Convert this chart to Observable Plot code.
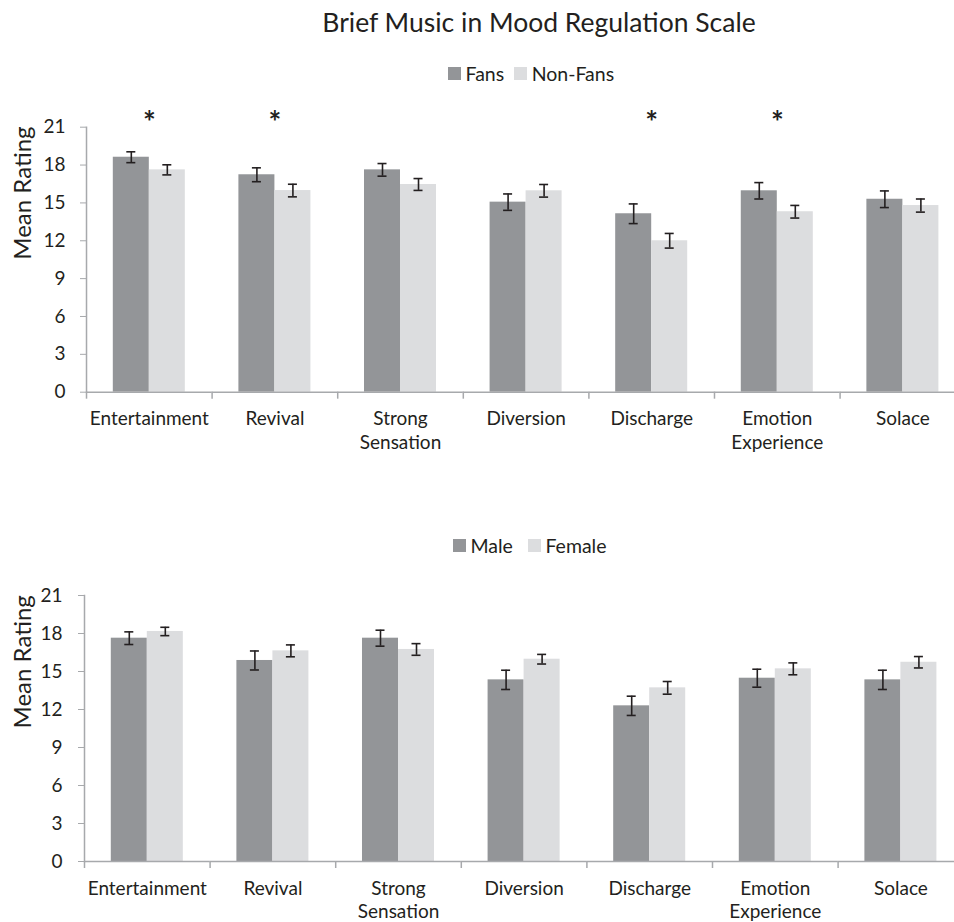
<!DOCTYPE html>
<html><head><meta charset="utf-8">
<script src="https://cdn.jsdelivr.net/npm/d3@7"></script>
<script src="https://cdn.jsdelivr.net/npm/@observablehq/plot@0.6"></script>
<style>
body{margin:0;background:#fff;}
#wrap{position:relative;width:954px;height:922px;overflow:hidden;font-family:Lato,"Open Sans",sans-serif;color:#231f20;}
.abs{position:absolute;}
#title{left:539px;top:8.5px;transform:translateX(-50%);font-size:26.5px;line-height:1;white-space:nowrap;}
.leg-swatches{min-height:33px !important;}
.leg-swatch > svg{margin-right:4.5px !important;}
#leg1 .leg-swatch{margin-right:10px !important;}
#leg2 .leg-swatch{margin-right:15px !important;}
</style></head><body><div id="wrap"><div id="title" class="abs">Brief Music in Mood Regulation Scale</div></div>
<script>
// ---- data ----
const categories = ["Entertainment","Revival","Strong Sensation","Diversion","Discharge","Emotion Experience","Solace"];
const categoryLabels = ["Entertainment","Revival","Strong\nSensation","Diversion","Discharge","Emotion\nExperience","Solace"];
const yTicks = [0,3,6,9,12,15,18,21];

const fanGroups = ["Fans","Non-Fans"];
const fansMean    = [18.62,17.23,17.62,15.06,14.14,15.96,15.29];
const fansErr     = [0.43,0.55,0.50,0.65,0.78,0.65,0.66];
const nonFansMean = [17.62,15.98,16.46,15.96,12.00,14.30,14.79];
const nonFansErr  = [0.40,0.50,0.47,0.50,0.58,0.50,0.52];
const significant = ["Entertainment","Revival","Discharge","Emotion Experience"];

const genderGroups = ["Male","Female"];
const maleMean   = [17.63,15.87,17.63,14.34,12.29,14.47,14.34];
const maleErr    = [0.50,0.75,0.63,0.76,0.76,0.71,0.76];
const femaleMean = [18.16,16.63,16.74,15.97,13.71,15.21,15.73];
const femaleErr  = [0.33,0.47,0.46,0.38,0.50,0.47,0.45];

const barColors = ["#939598","#dcdddf"];
const axisColor = "#a7a9ac";
const inkColor = "#231f20";

function makeRows(groups, means, errs) {
  const rows = [];
  groups.forEach((g, gi) => categories.forEach((c, ci) =>
    rows.push({category: c, group: g, value: means[gi][ci], err: errs[gi][ci]})));
  return rows;
}

function chart({groups, means, errs, stars, marginLeft, marginRight, marginTop, marginBottom, plotHeight, labelDx, tickPad}) {
  const rows = makeRows(groups, means, errs);
  const width = 954;
  const step = (width - marginLeft - marginRight) / categories.length;
  const labelOf = new Map(categories.map((c, i) => [c, categoryLabels[i]]));
  return Plot.plot({
    width, height: marginTop + plotHeight + marginBottom,
    marginLeft, marginRight, marginTop, marginBottom,
    style: {fontFamily: "Lato, 'Open Sans', sans-serif", fontSize: "19px", color: inkColor, background: "transparent", overflow: "visible"},
    fx: {domain: categories, padding: 0, round: false, axis: null, label: null},
    x: {domain: groups, paddingInner: 0, paddingOuter: 0.744, round: false, axis: null},
    y: {domain: [0, 21], axis: null},
    color: {domain: groups, range: barColors},
    marks: [
      Plot.barY(rows, {fx: "category", x: "group", y: "value", fill: "group"}),
      Plot.ruleY([0], {stroke: axisColor, strokeWidth: 1.5}),
      Plot.ruleX(rows, {fx: "category", x: "group", y1: d => d.value - d.err, y2: d => d.value + d.err, stroke: inkColor, strokeWidth: 1.6}),
      Plot.tickY(rows, {fx: "category", x: "group", y: d => d.value - d.err, insetLeft: 13.5, insetRight: 13.5, stroke: inkColor, strokeWidth: 1.6}),
      Plot.tickY(rows, {fx: "category", x: "group", y: d => d.value + d.err, insetLeft: 13.5, insetRight: 13.5, stroke: inkColor, strokeWidth: 1.6}),
      Plot.text(stars, {fx: d => d, text: () => "*", frameAnchor: "top", dy: -16, fontSize: 30, fontWeight: "bold", fill: inkColor}),
      Plot.frame({anchor: "left", facetAnchor: "left", stroke: axisColor, strokeWidth: 1.5}),
      Plot.axisY({ticks: yTicks, tickSize: 6, tickPadding: tickPad, stroke: axisColor, fill: inkColor, fontSize: 19, label: null}),
      Plot.axisFx({anchor: "bottom", tickSize: 7, tickFormat: () => "", dx: -step / 2, stroke: axisColor, strokeWidth: 1.5, label: null}),
      Plot.axisFx({anchor: "bottom", tickSize: 0, tickPadding: 16, tickFormat: d => labelOf.get(d), fontSize: 19, lineHeight: 1.26, fill: inkColor, label: null}),
      Plot.text(["Mean Rating"], {frameAnchor: "left", facetAnchor: "left", rotate: -90, dx: labelDx, fontSize: 24, fill: inkColor})
    ]
  });
}

function legend(groups, id, left, top) {
  const el = Plot.legend({
    color: {domain: groups, range: barColors},
    legend: "swatches", swatchSize: 13, className: "leg",
    style: {fontFamily: "Lato, 'Open Sans', sans-serif", fontSize: "19.5px", color: inkColor}
  });
  const box = document.createElement("div");
  box.id = id; box.className = "abs";
  box.style.left = left + "px"; box.style.top = top + "px";
  box.appendChild(el);
  return box;
}

const wrap = document.getElementById("wrap");
wrap.appendChild(legend(fanGroups, "leg1", 448, 57));

const c1 = chart({groups: fanGroups, means: [fansMean, nonFansMean], errs: [fansErr, nonFansErr], stars: significant,
  marginLeft: 86, marginRight: -11.2, marginTop: 31.7, marginBottom: 65, plotHeight: 265, labelDx: -63, tickPad: 15});
const b1 = document.createElement("div"); b1.className = "abs"; b1.style.left = "0px"; b1.style.top = "95px";
b1.appendChild(c1); wrap.appendChild(b1);

wrap.appendChild(legend(genderGroups, "leg2", 453, 529));

const c2 = chart({groups: genderGroups, means: [maleMean, femaleMean], errs: [maleErr, femaleErr], stars: [],
  marginLeft: 84, marginRight: -9.2, marginTop: 30, marginBottom: 61, plotHeight: 266, labelDx: -61.3, tickPad: 16});
const b2 = document.createElement("div"); b2.className = "abs"; b2.style.left = "0px"; b2.style.top = "565px";
b2.appendChild(c2); wrap.appendChild(b2);
</script></body></html>
